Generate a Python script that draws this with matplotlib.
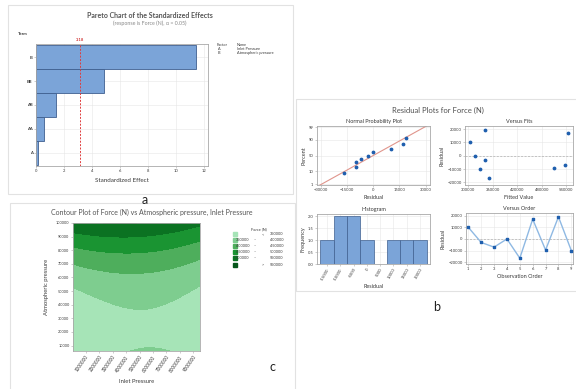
import numpy as np
import matplotlib.pyplot as plt
from matplotlib.patches import Rectangle
from statistics import NormalDist

plt.rcParams['font.family'] = ['Lato', 'DejaVu Sans']

W, H = 576, 389

# panel a: Pareto chart of standardized effects
terms = ['B', 'BB', 'AB', 'AA', 'A']
effects = [11.43, 4.88, 1.44, 0.54, 0.17]
t_crit = 3.18

# panel b: residuals in observation order
obs_order = [1, 2, 3, 4, 5, 6, 7, 8, 9]
residuals = [10000, -3000, -7000, 0, -16500, 17000, -9500, 19000, -10000]
fitted = [305800, 341400, 536700, 316500, 350500, 544100, 508600, 340500, 330600]
hist_centers = [-15000, -10000, -5000, 0, 5000, 10000, 15000, 20000]

# panel c: quadratic response surface (coded A, B = atm/100000)
inlet_lo, inlet_hi = 50000, 9500000
atm_lo, atm_hi = 6000, 100000
c0, cA, cB, cAA, cBB, cAB = 359000, 12850, -149000, -26150, 340000, -26500
force_levels = [350000, 400000, 450000, 500000, 550000]
force_colors = ['#a6e4b7', '#7ecd8f', '#4eae5c', '#1a9432', '#0b7222', '#05561a']

TXT = '#3a3a3a'
BAR = '#7ba4d8'
BAR_EDGE = '#3f5f8f'
DOT = '#1f5fae'

fig = plt.figure(figsize=(W / 100, H / 100), dpi=100)


def rect(l, t, r, b):
    return [l / W, 1 - b / H, (r - l) / W, (b - t) / H]


def ftext(x, y, s, **kw):
    kw.setdefault('color', TXT)
    kw.setdefault('va', 'center')
    fig.text(x / W, 1 - y / H, s, **kw)


def box(l, t, r, b):
    fig.add_artist(Rectangle((l / W, 1 - b / H), (r - l) / W, (b - t) / H,
                             transform=fig.transFigure, fill=False,
                             edgecolor='#e2e2e2', lw=0.8))


def style(ax, grid=True):
    for sp in ax.spines.values():
        sp.set_color('#a8a8a8')
        sp.set_linewidth(0.6)
    ax.tick_params(labelsize=3, length=1.5, width=0.4, pad=1,
                   colors='#a8a8a8', labelcolor=TXT)
    if grid:
        ax.grid(True, color='#e6e6e6', lw=0.4)
        ax.set_axisbelow(True)


# ---------------- panel a ----------------
box(8, 5, 293, 194)
ftext(150, 15, 'Pareto Chart of the Standardized Effects', ha='center',
      fontsize=5, fontweight='bold', color='#555555')
ftext(150, 23, '(response is Force (N), \u03b1 = 0.05)', ha='center',
      fontsize=3.8, color='#8a8a8a')
ftext(18, 34, 'Term', fontsize=3, fontweight='bold')

ax = fig.add_axes(rect(36, 44, 208, 166))
ypos = np.arange(len(terms))
ax.barh(ypos, effects, height=1.0, color=BAR, edgecolor=BAR_EDGE, lw=0.6)
ax.axvline(t_crit, color='#e03c3c', ls=(0, (2, 1.5)), lw=0.7)
ax.set_yticks(ypos)
ax.set_yticklabels(terms, fontweight='bold')
ax.set_ylim(4.55, -0.55)
ax.set_xlim(0, 12.3)
ax.set_xticks(range(0, 13, 2))
style(ax)
ax.set_xlabel('Standardized Effect', fontsize=4.5, color=TXT, labelpad=3)
ax.text(t_crit, -0.62, f'{t_crit:.2f}', color='#d23a3a', fontsize=3,
        ha='center', va='bottom', fontweight='bold', clip_on=False)

ftext(217, 45, 'Factor', fontsize=2.8)
ftext(237, 45, 'Name', fontsize=2.8)
ftext(218, 49, 'A', fontsize=2.8)
ftext(237, 49, 'Inlet Pressure', fontsize=2.8)
ftext(218, 53, 'B', fontsize=2.8)
ftext(237, 53, 'Atmospheric pressure', fontsize=2.8)
ftext(145, 200, 'a', ha='center', fontsize=9, color='#222222')

# ---------------- panel b ----------------
box(296, 99, 580, 291)
ftext(438, 110, 'Residual Plots for Force (N)', ha='center', fontsize=5.5,
      color='#505050')

res = np.array(residuals, dtype=float)
n = len(res)

# normal probability plot
ax = fig.add_axes(rect(317, 126, 430, 185))
nd = NormalDist()
srt = np.sort(res)
z = [nd.inv_cdf((i - 0.3) / (n + 0.4)) for i in range(1, n + 1)]
zl = np.array([-2.6, 2.6])
ax.plot(res.mean() + res.std(ddof=1) * zl, zl, color='#e0958c', lw=0.8)
ax.scatter(srt, z, s=3, color=DOT, zorder=3)
pct = [1, 10, 50, 90, 99]
ax.set_yticks([nd.inv_cdf(p / 100) for p in pct])
ax.set_yticklabels([str(p) for p in pct])
ax.set_ylim(-2.4, 2.42)
ax.set_xlim(-32000, 32500)
ax.set_xticks([-30000, -15000, 0, 15000, 30000])
style(ax)
ax.set_title('Normal Probability Plot', fontsize=4, color=TXT, pad=2)
ax.set_xlabel('Residual', fontsize=4, color=TXT, labelpad=1.5)
ax.set_ylabel('Percent', fontsize=4, color=TXT, labelpad=2)

# versus fits
ax = fig.add_axes(rect(465, 126, 573, 185))
ax.axhline(0, color='#b0b0b0', ls=(0, (3, 2)), lw=0.5)
ax.scatter(fitted, res, s=3, color=DOT, zorder=3)
ax.set_xlim(293000, 556000)
ax.set_xticks([300000, 360000, 420000, 480000, 540000])
ax.set_ylim(-22000, 22300)
ax.set_yticks([-20000, -10000, 0, 10000, 20000])
style(ax)
ax.set_title('Versus Fits', fontsize=4, color=TXT, pad=2)
ax.set_xlabel('Fitted Value', fontsize=4, color=TXT, labelpad=1.5)
ax.set_ylabel('Residual', fontsize=4, color=TXT, labelpad=2)

# histogram
ax = fig.add_axes(rect(317, 214, 430, 264))
edges = np.array(hist_centers + [hist_centers[-1] + 5000]) - 2500
ax.hist(res, bins=edges, color=BAR, edgecolor=BAR_EDGE, lw=0.5)
ax.set_xticks(hist_centers)
ax.set_xticklabels([str(c) for c in hist_centers], rotation=60,
                   ha='right', rotation_mode='anchor')
ax.set_xlim(-18750, 23750)
ax.set_ylim(0, 2.1)
ax.set_yticks([0, 0.5, 1.0, 1.5, 2.0])
ax.set_yticklabels(['0.0', '0.5', '1.0', '1.5', '2.0'])
style(ax)
ax.set_title('Histogram', fontsize=4, color=TXT, pad=2)
ax.set_xlabel('Residual', fontsize=4, color=TXT, labelpad=2)
ax.set_ylabel('Frequency', fontsize=4, color=TXT, labelpad=2)

# versus order
ax = fig.add_axes(rect(466, 213, 573, 264))
ax.axhline(0, color='#b0b0b0', ls=(0, (3, 2)), lw=0.5)
ax.plot(obs_order, res, color='#8fb9e3', lw=1.0, zorder=2)
ax.scatter(obs_order, res, s=3, color=DOT, marker='s', zorder=3)
ax.set_xlim(0.82, 9.13)
ax.set_xticks(obs_order)
ax.set_ylim(-21500, 22300)
ax.set_yticks([-20000, -10000, 0, 10000, 20000])
style(ax)
ax.set_title('Versus Order', fontsize=4, color=TXT, pad=2)
ax.set_xlabel('Observation Order', fontsize=4, color=TXT, labelpad=1.5)
ax.set_ylabel('Residual', fontsize=4, color=TXT, labelpad=2)

ftext(437, 307, 'b', ha='center', fontsize=9, color='#222222')

# ---------------- panel c ----------------
box(10, 203, 295, 395)
ftext(152, 212, 'Contour Plot of Force (N) vs Atmospheric pressure, Inlet Pressure',
      ha='center', fontsize=5, color='#555555')

ax = fig.add_axes(rect(73, 223, 200, 351))
A = np.linspace(inlet_lo, inlet_hi, 300)
B = np.linspace(atm_lo, atm_hi, 300)
AA, BB = np.meshgrid(A, B)
u = (AA - (inlet_lo + inlet_hi) / 2) / ((inlet_hi - inlet_lo) / 2)
b = BB / 100000
F = c0 + cA * u + cB * b + cAA * u ** 2 + cBB * b ** 2 + cAB * u * b
ax.contourf(AA, BB, F, levels=[0] + force_levels + [1e7], colors=force_colors)
ax.set_xlim(inlet_lo, inlet_hi)
ax.set_ylim(atm_lo, atm_hi)
inlet_ticks = list(range(1000000, 9000001, 1000000))
ax.set_xticks(inlet_ticks)
ax.set_xticklabels([str(t) for t in inlet_ticks], rotation=55, ha='right',
                   rotation_mode='anchor')
atm_ticks = list(range(10000, 100001, 10000))
ax.set_yticks(atm_ticks)
ax.set_yticklabels([str(t) for t in atm_ticks])
style(ax, grid=False)
ax.tick_params(axis='y', labelsize=2.8)
ax.tick_params(axis='x', labelsize=3.3)
ax.set_xlabel('Inlet Pressure', fontsize=4.2, color=TXT, labelpad=4)
ax.set_ylabel('Atmospheric pressure', fontsize=4.2, color=TXT, labelpad=5)

# legend
ftext(259, 229, 'Force (N)', ha='center', fontsize=2.8)
for i, col in enumerate(force_colors):
    y = 234 + i * 6.1
    fig.add_artist(Rectangle((232.5 / W, 1 - (y + 2) / H), 4.5 / W, 4 / H,
                             transform=fig.transFigure, color=col))
    if i == 0:
        ftext(263, y, '<', ha='center', fontsize=2.8)
        ftext(283, y, str(force_levels[0]), ha='right', fontsize=2.8)
    elif i == len(force_colors) - 1:
        ftext(263, y, '>', ha='center', fontsize=2.8)
        ftext(283, y, str(force_levels[-1]), ha='right', fontsize=2.8)
    else:
        ftext(249, y, str(force_levels[i - 1]), ha='right', fontsize=2.8)
        ftext(255, y, '\u2013', ha='center', fontsize=2.8)
        ftext(283, y, str(force_levels[i]), ha='right', fontsize=2.8)

ftext(272, 367, 'c', ha='center', fontsize=9, color='#222222')

fig.savefig('out.png', dpi=100)
